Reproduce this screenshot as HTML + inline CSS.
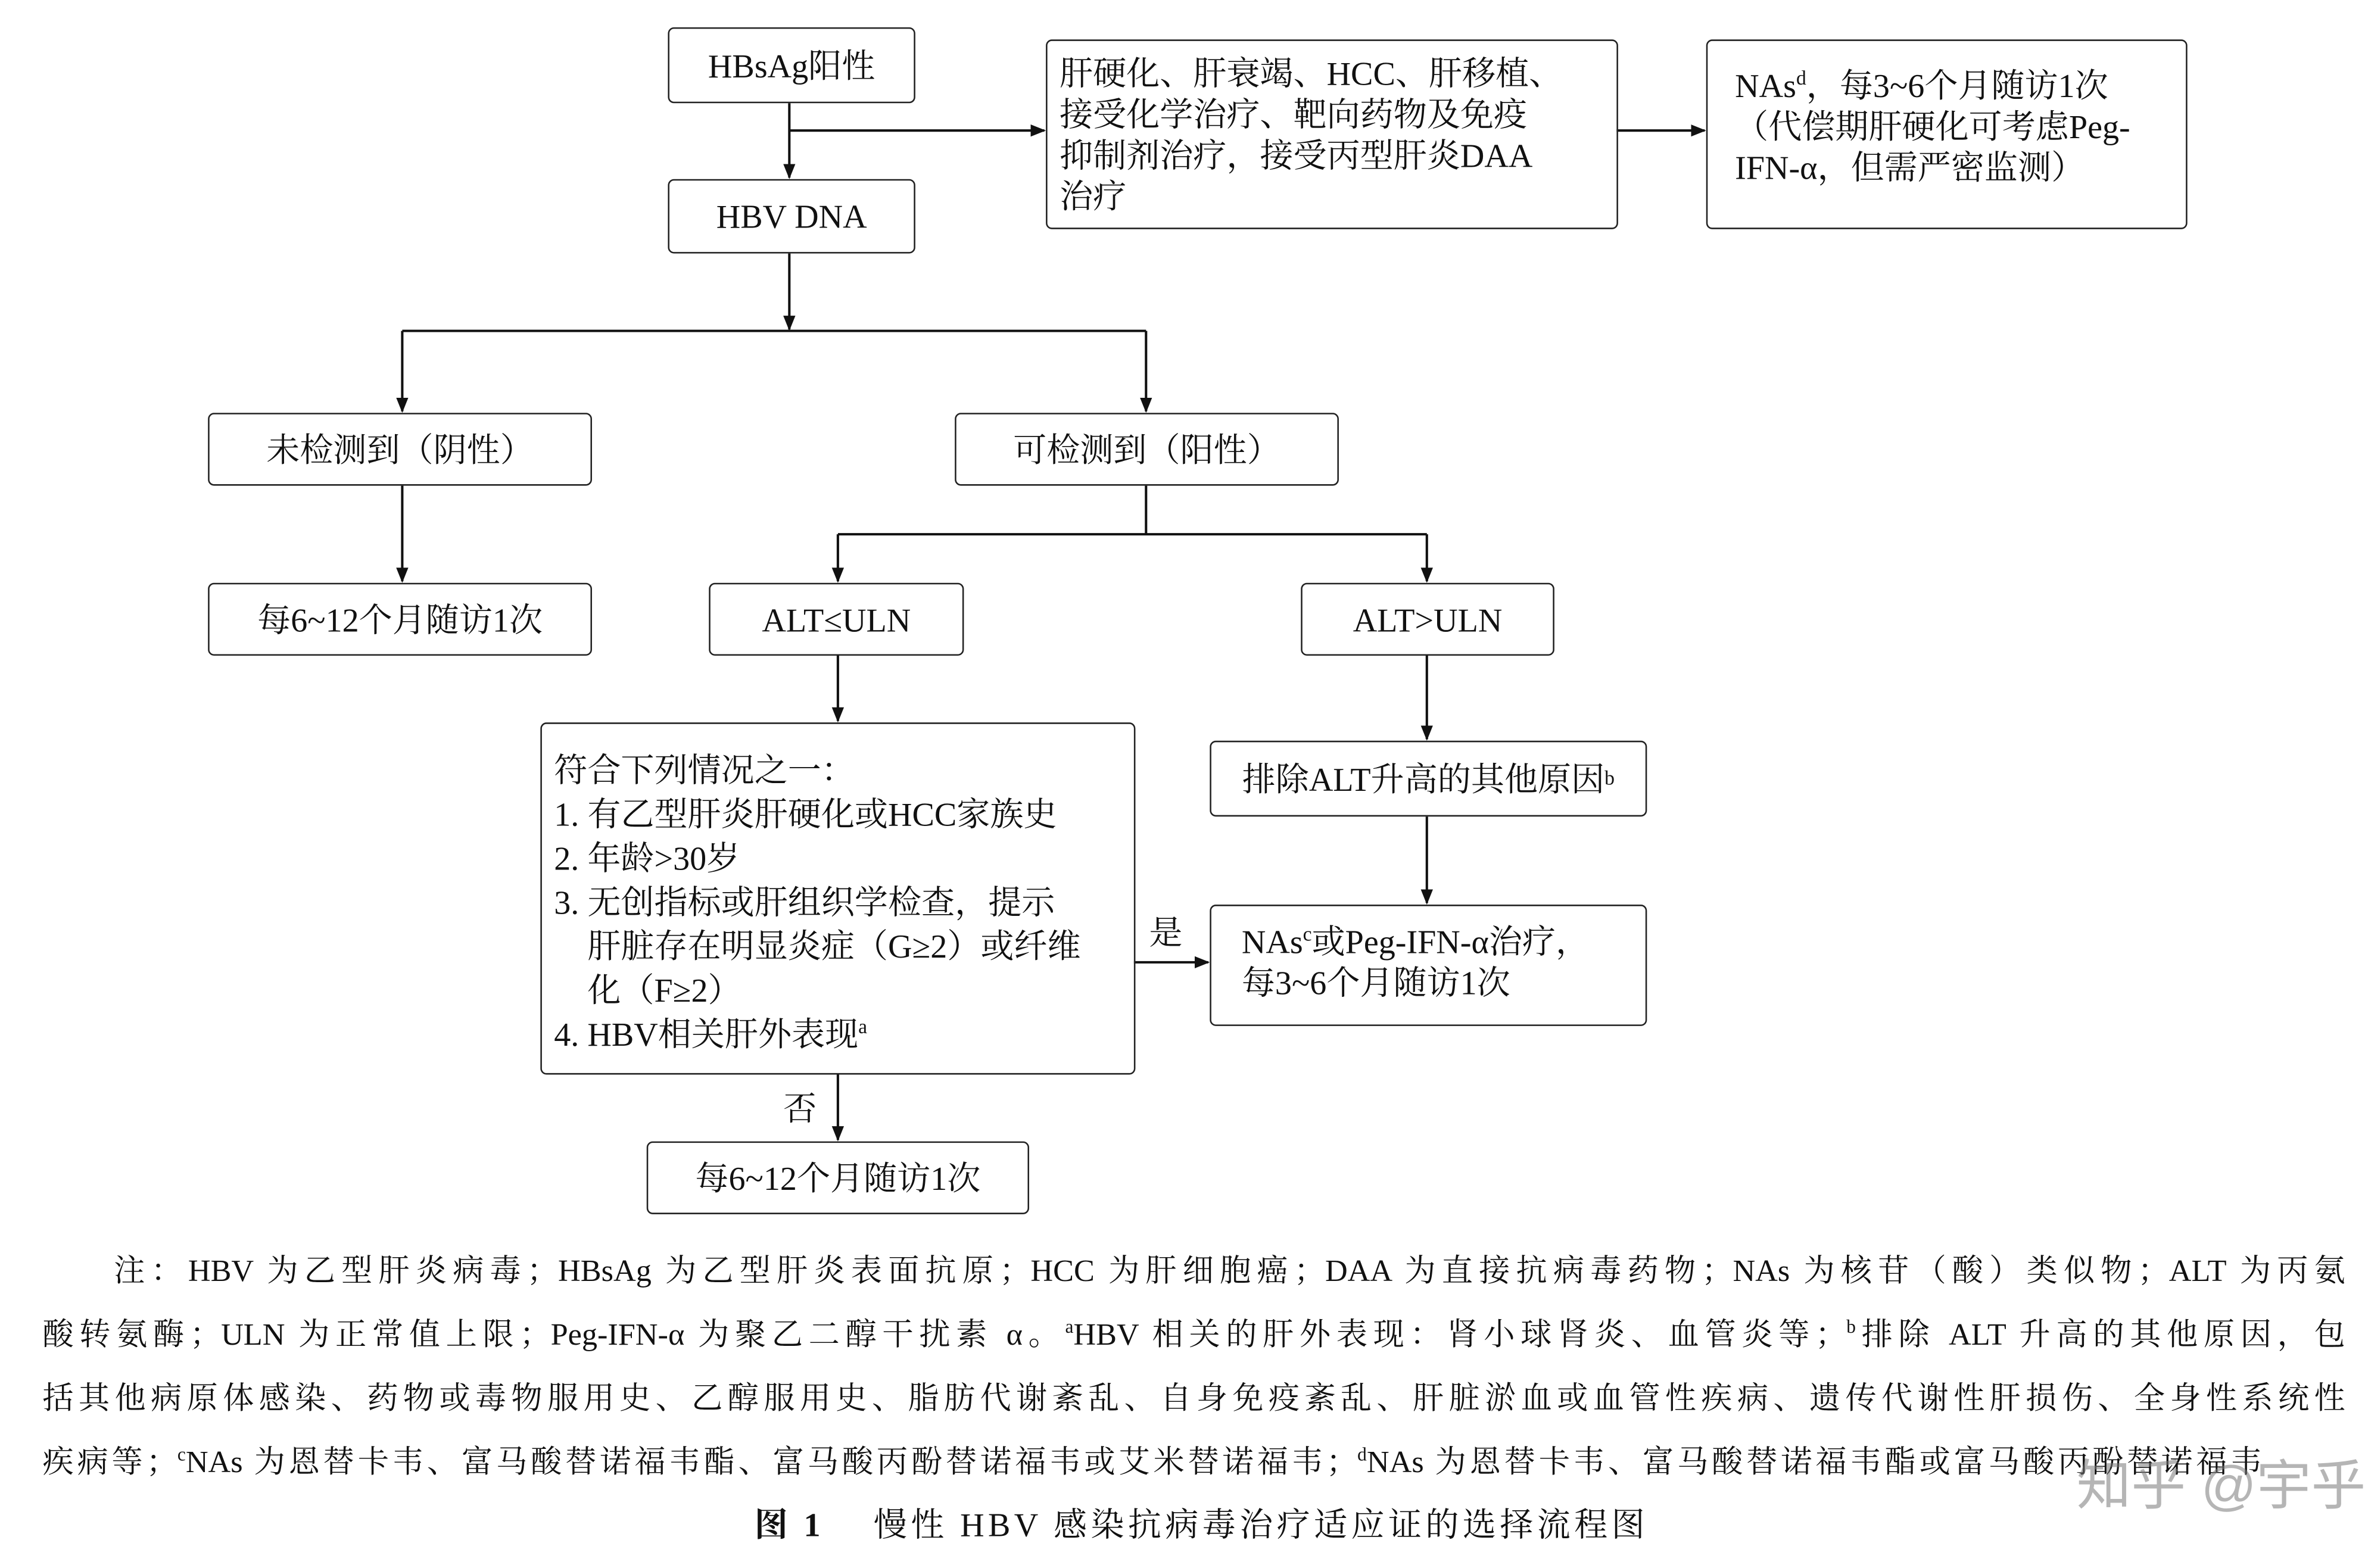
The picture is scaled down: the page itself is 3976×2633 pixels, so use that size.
<!DOCTYPE html>
<html><head><meta charset="utf-8"><style>
html,body{margin:0;padding:0;background:#fff;}
body{width:3976px;height:2632px;overflow:hidden;position:relative;}
#c{position:absolute;left:0;top:0;width:1560px;height:1033px;transform:scale(2.5487);transform-origin:0 0;font-family:"Liberation Serif","Noto Serif CJK SC",serif;color:#111;}
.b{position:absolute;border:1.6px solid #222;border-radius:4px;box-sizing:border-box;font-size:22px;line-height:27px;background:transparent;}
.cc{display:flex;align-items:center;justify-content:center;white-space:nowrap;}
.l{padding:4px 8px;white-space:nowrap;}
sup{font-size:60%;line-height:0;}
.n{position:absolute;left:28px;width:1517px;font-size:20.5px;line-height:42px;text-align:justify;text-align-last:justify;white-space:nowrap;}
.t{position:absolute;font-size:22px;}
</style></head><body><div id="c">
<svg width="1560" height="1033" style="position:absolute;left:0;top:0">
<defs><marker id="a" markerWidth="10" markerHeight="10" refX="9" refY="5" orient="auto" markerUnits="userSpaceOnUse"><path d="M0,1 L10,5 L0,9 Z" fill="#111"/></marker></defs>
<g stroke="#111" stroke-width="1.6" fill="none">
<line x1="520" y1="68" x2="520" y2="117" marker-end="url(#a)"/>
<line x1="520" y1="86" x2="688" y2="86" marker-end="url(#a)"/>
<line x1="1065" y1="86" x2="1123" y2="86" marker-end="url(#a)"/>
<line x1="520" y1="167" x2="520" y2="217" marker-end="url(#a)"/>
<line x1="265" y1="218" x2="755" y2="218"/>
<line x1="265" y1="218" x2="265" y2="271" marker-end="url(#a)"/>
<line x1="755" y1="218" x2="755" y2="271" marker-end="url(#a)"/>
<line x1="265" y1="320" x2="265" y2="383" marker-end="url(#a)"/>
<line x1="755" y1="320" x2="755" y2="352"/>
<line x1="552" y1="352" x2="940" y2="352"/>
<line x1="552" y1="352" x2="552" y2="383" marker-end="url(#a)"/>
<line x1="940" y1="352" x2="940" y2="383" marker-end="url(#a)"/>
<line x1="552" y1="432" x2="552" y2="475" marker-end="url(#a)"/>
<line x1="940" y1="432" x2="940" y2="487" marker-end="url(#a)"/>
<line x1="940" y1="538" x2="940" y2="595" marker-end="url(#a)"/>
<line x1="747" y1="634" x2="796" y2="634" marker-end="url(#a)"/>
<line x1="552" y1="708" x2="552" y2="751" marker-end="url(#a)"/>
</g></svg>
<div class="b cc" style="left:440px;top:18px;width:163px;height:50px">HBsAg阳性</div>
<div class="b cc" style="left:440px;top:118px;width:163px;height:49px">HBV DNA</div>
<div class="b l" style="left:689px;top:26px;width:377px;height:125px;padding-top:8px">肝硬化、肝衰竭、HCC、肝移植、<br>接受化学治疗、靶向药物及免疫<br>抑制剂治疗，接受丙型肝炎DAA<br>治疗</div>
<div class="b l" style="left:1124px;top:26px;width:317px;height:125px;padding-top:16px;padding-left:18px">NAs<sup>d</sup>，每3~6个月随访1次<br>（代偿期肝硬化可考虑Peg-<br>IFN-α，但需严密监测）</div>
<div class="b cc" style="left:137px;top:272px;width:253px;height:48px">未检测到（阴性）</div>
<div class="b cc" style="left:629px;top:272px;width:253px;height:48px">可检测到（阳性）</div>
<div class="b cc" style="left:137px;top:384px;width:253px;height:48px">每6~12个月随访1次</div>
<div class="b cc" style="left:467px;top:384px;width:168px;height:48px">ALT≤ULN</div>
<div class="b cc" style="left:857px;top:384px;width:167px;height:48px">ALT&gt;ULN</div>
<div class="b l" style="left:356px;top:476px;width:392px;height:232px;padding-top:16px;line-height:29px">符合下列情况之一：<br>1. 有乙型肝炎肝硬化或HCC家族史<br>2. 年龄&gt;30岁<br>3. 无创指标或肝组织学检查，提示<br>&nbsp;&nbsp;&nbsp;&nbsp;肝脏存在明显炎症（G≥2）或纤维<br>&nbsp;&nbsp;&nbsp;&nbsp;化（F≥2）<br>4. HBV相关肝外表现<sup>a</sup></div>
<div class="b cc" style="left:797px;top:488px;width:288px;height:50px">排除ALT升高的其他原因<sup>b</sup></div>
<div class="b l" style="left:797px;top:596px;width:288px;height:80px;padding-top:10px;padding-left:20px">NAs<sup>c</sup>或Peg-IFN-α治疗，<br>每3~6个月随访1次</div>
<div class="b cc" style="left:426px;top:752px;width:252px;height:48px">每6~12个月随访1次</div>
<div class="t" style="left:757px;top:598px">是</div>
<div class="t" style="left:516px;top:714px">否</div>
<div class="n" style="top:817px;left:75px;width:1470px">注：HBV 为乙型肝炎病毒；HBsAg 为乙型肝炎表面抗原；HCC 为肝细胞癌；DAA 为直接抗病毒药物；NAs 为核苷（酸）类似物；ALT 为丙氨</div>
<div class="n" style="top:859px">酸转氨酶；ULN 为正常值上限；Peg-IFN-α 为聚乙二醇干扰素 α。<sup>a</sup>HBV 相关的肝外表现：肾小球肾炎、血管炎等；<sup>b</sup>排除 ALT 升高的其他原因，包</div>
<div class="n" style="top:901px">括其他病原体感染、药物或毒物服用史、乙醇服用史、脂肪代谢紊乱、自身免疫紊乱、肝脏淤血或血管性疾病、遗传代谢性肝损伤、全身性系统性</div>
<div class="n" style="top:943px;width:1462px">疾病等；<sup>c</sup>NAs 为恩替卡韦、富马酸替诺福韦酯、富马酸丙酚替诺福韦或艾米替诺福韦；<sup>d</sup>NAs 为恩替卡韦、富马酸替诺福韦酯或富马酸丙酚替诺福韦</div>
<div style="position:absolute;left:1368px;top:950px;font-size:36px;color:rgba(120,120,120,0.55);font-family:'Liberation Sans','Noto Sans CJK SC',sans-serif;white-space:nowrap">知乎 @宇乎</div>
<div style="position:absolute;left:497px;top:988px;font-size:22px;white-space:nowrap;letter-spacing:2.5px"><b>图 1</b>　 慢性 HBV 感染抗病毒治疗适应证的选择流程图</div>
</div></body></html>
